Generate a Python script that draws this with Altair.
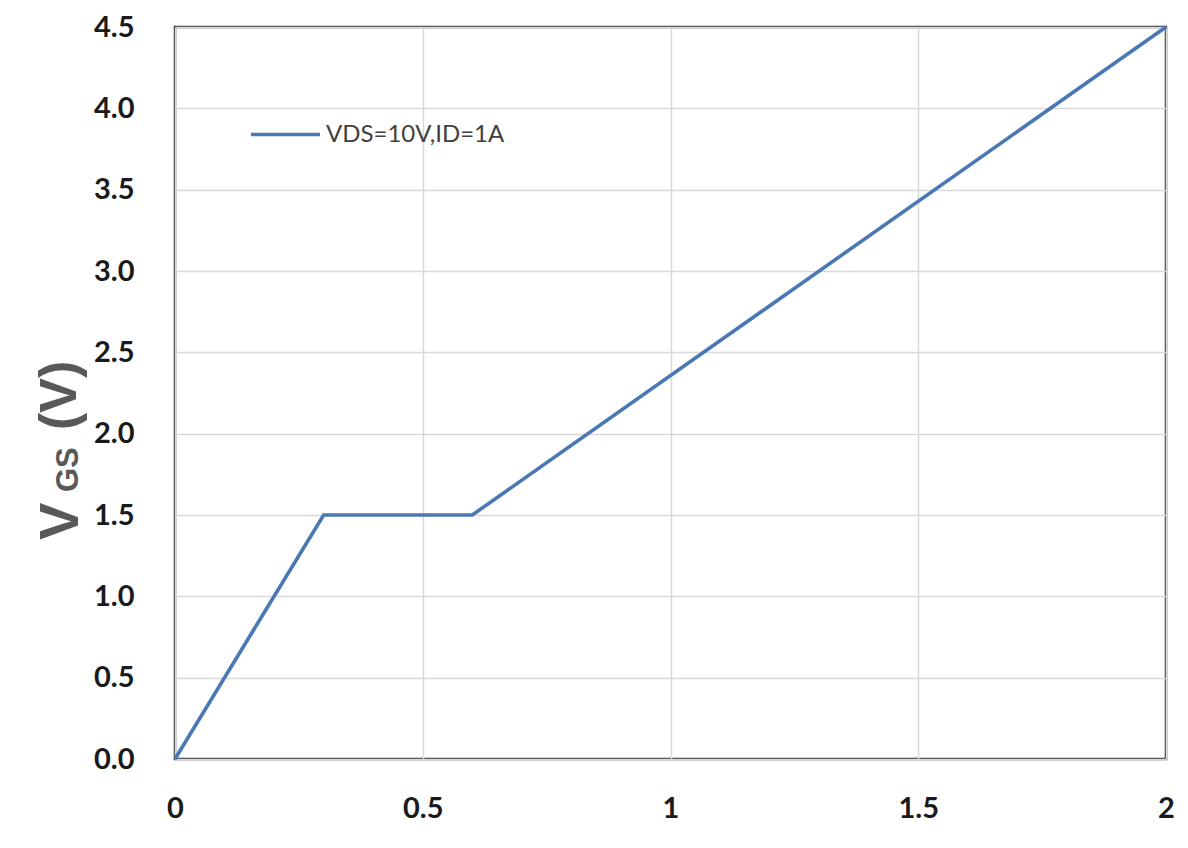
import altair as alt
import pandas as pd

# Gate charge style curve: gate-source voltage against charge
charge = [0.0, 0.3, 0.6, 2.0]
vgs = [0.0, 1.5, 1.5, 4.5]
series_name = "VDS=10V,ID=1A"

x_ticks = [0, 0.5, 1, 1.5, 2]
y_ticks = [0.0, 0.5, 1.0, 1.5, 2.0, 2.5, 3.0, 3.5, 4.0, 4.5]

df = pd.DataFrame({"q": charge, "v": vgs, "s": [series_name] * len(charge)})

LINE_BLUE = "#4a78b5"
TICK_FONT = "Lato"

base = alt.Chart(df)

curve = base.mark_line(strokeWidth=3.6).encode(
    x=alt.X(
        "q:Q",
        scale=alt.Scale(domain=[0, 2], nice=False, zero=False),
        axis=alt.Axis(
            values=x_ticks,
            title=None,
            grid=True,
            gridColor="#d9d9d9",
            gridWidth=1.5,
            domain=False,
            ticks=False,
            labelFlush=False,
            labelBound=False,
            labelPadding=35,
            labelFont=TICK_FONT,
            labelFontSize=29,
            labelFontWeight="bold",
            labelColor="#1a1a1a",
            labelExpr="datum.value == 0 ? '0' : format(datum.value, '')",
        ),
    ),
    y=alt.Y(
        "v:Q",
        scale=alt.Scale(domain=[0, 4.5], nice=False),
        axis=alt.Axis(
            values=y_ticks,
            format=".1f",
            title=None,
            grid=True,
            gridColor="#d9d9d9",
            gridWidth=1.5,
            domain=False,
            ticks=False,
            labelFlush=False,
            labelBound=False,
            labelPadding=41,
            labelFont=TICK_FONT,
            labelFontSize=29,
            labelFontWeight="bold",
            labelColor="#1a1a1a",
        ),
    ),
    color=alt.Color(
        "s:N",
        scale=alt.Scale(domain=[series_name], range=[LINE_BLUE]),
        legend=alt.Legend(
            title=None,
            orient="none",
            legendX=74,
            legendY=71,
            symbolType="stroke",
            symbolSize=4761,
            symbolStrokeWidth=3.6,
            labelOffset=4,
            labelLimit=400,
            labelFont="Lato",
            labelFontSize=24,
            labelColor="#404040",
        ),
    ),
)

# y-axis title with a subscript, built from three text pieces
title_font = "Liberation Sans"
title_v = alt.Chart(pd.DataFrame({"t": ["V"]})).mark_text(
    angle=270, align="left", baseline="alphabetic", font=title_font,
    fontSize=56, fontWeight="bold", color="#595959",
).encode(text="t:N", x=alt.value(-97), y=alt.value(513))

title_sub = alt.Chart(pd.DataFrame({"t": ["GS"]})).mark_text(
    angle=270, align="left", baseline="alphabetic", font=title_font,
    fontSize=31, fontWeight="bold", color="#595959",
).encode(text="t:N", x=alt.value(-97), y=alt.value(465))

title_unit = alt.Chart(pd.DataFrame({"t": ["(V)"]})).mark_text(
    angle=270, align="left", baseline="alphabetic", font=title_font,
    fontSize=52, fontWeight="bold", color="#595959",
).encode(text="t:N", x=alt.value(-99), y=alt.value(403))

chart = (
    alt.layer(curve, title_v, title_sub, title_unit)
    .properties(
        width=991,
        height=732,
        autosize=alt.AutoSizeParams(type="none"),
        padding={"left": 175, "top": 27, "right": 22, "bottom": 89},
        background="white",
    )
    .configure_view(stroke="#333333", strokeWidth=2.5)
)

chart.save("out.html", embed_options={"renderer": "svg", "actions": False})
